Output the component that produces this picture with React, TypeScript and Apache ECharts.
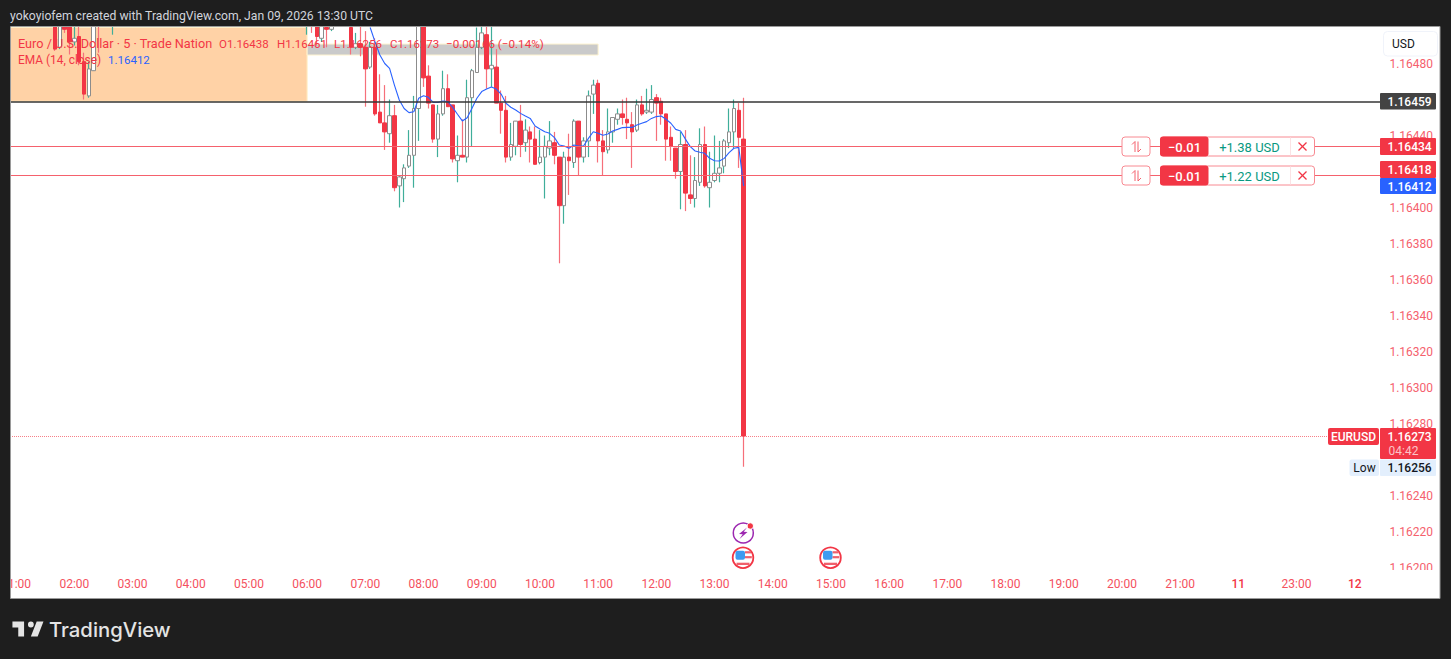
import React, { useEffect, useRef } from "react";
import * as echarts from "echarts";

const offscreen = (n: number) => Array(n).fill(null);

const hourLabels: Record<string, string> = { "22:00": "11", "00:00": "12" };
const categories: string[] = [];
for (let i = 0; i < 284; i++) {
  const m = (50 + i * 5) % 1440;
  const s = String(Math.floor(m / 60)).padStart(2, "0") + ":" + String(m % 60).padStart(2, "0");
  categories.push(hourLabels[s] ?? s);
}

const opens = [...offscreen(10),
  1.16501,1.16489,1.16505,1.16503,1.16492,1.16495,1.16481,1.16462,1.16476,1.16510,null,null,1.16505,...offscreen(39),
  1.16506,1.16510,1.16505,1.16494,1.16500,1.16499,null,null,null,
  1.16500,1.16489,1.16491,1.16489,1.16478,1.16489,1.16453,1.16447,1.16441,1.16451,1.16412,1.16416,1.16423,1.16429,1.16455,1.16501,1.16473,1.16457,1.16438,1.16452,1.16466,1.16457,1.16426,1.16429,1.16428,1.16461,1.16475,1.16489,1.16496,1.16477,1.16478,1.16458,1.16454,1.16428,1.16434,1.16448,1.16436,1.16442,1.16438,1.16425,1.16428,1.16433,1.16436,1.16428,1.16401,1.16428,1.16425,1.16448,1.16428,1.16437,1.16463,1.16469,1.16437,1.16432,1.16442,1.16449,1.16452,1.16449,1.16446,1.16443,1.16457,1.16453,1.16453,1.16461,1.16459,1.16452,1.16439,1.16433,1.16420,1.16435,1.16407,1.16405,1.16414,1.16435,1.16411,1.16415,1.16419,1.16423,1.16436,1.16442,1.16454,1.16438];
const closes = [...offscreen(10),
  1.16488,1.16503,1.16499,1.16492,1.16494,1.16481,1.16463,1.16477,1.16505,1.16506,null,null,1.16510,...offscreen(39),
  1.16510,1.16506,1.16495,1.16503,1.16499,1.16501,null,null,null,
  1.16489,1.16491,1.16489,1.16477,1.16489,1.16452,1.16447,1.16442,1.16451,1.16411,1.16417,1.16422,1.16429,1.16455,1.16503,1.16472,1.16458,1.16438,1.16452,1.16466,1.16456,1.16427,1.16429,1.16428,1.16461,1.16476,1.16489,1.16497,1.16477,1.16479,1.16458,1.16454,1.16428,1.16435,1.16448,1.16435,1.16443,1.16438,1.16424,1.16428,1.16434,1.16437,1.16429,1.16401,1.16428,1.16426,1.16448,1.16428,1.16437,1.16462,1.16468,1.16437,1.16431,1.16442,1.16450,1.16452,1.16450,1.16447,1.16442,1.16457,1.16452,1.16454,1.16460,1.16458,1.16452,1.16438,1.16434,1.16420,1.16435,1.16408,1.16405,1.16415,1.16435,1.16412,1.16414,1.16419,1.16422,1.16437,1.16442,1.16455,1.16439,1.16273];
const lows = [...offscreen(10),
  1.16487,1.16488,1.16497,1.16485,1.16490,1.16479,1.16460,1.16461,1.16476,1.16486,null,null,1.16496,...offscreen(39),
  1.16496,1.16497,1.16490,1.16492,1.16489,1.16498,null,null,null,
  1.16485,1.16488,1.16484,1.16456,1.16477,1.16451,1.16447,1.16432,1.16436,1.16409,1.16400,1.16403,1.16422,1.16411,1.16437,1.16467,1.16455,1.16436,1.16428,1.16451,1.16456,1.16425,1.16414,1.16428,1.16425,1.16434,1.16475,1.16488,1.16466,1.16467,1.16458,1.16441,1.16425,1.16426,1.16429,1.16428,1.16431,1.16425,1.16424,1.16424,1.16405,1.16429,1.16424,1.16369,1.16391,1.16407,1.16422,1.16418,1.16425,1.16428,1.16452,1.16425,1.16418,1.16430,1.16436,1.16446,1.16446,1.16438,1.16422,1.16442,1.16451,1.16452,1.16452,1.16437,1.16446,1.16426,1.16426,1.16416,1.16399,1.16398,1.16402,1.16400,1.16412,1.16411,1.16400,1.16414,1.16414,1.16419,1.16433,1.16433,1.16422,1.16256];
const highs = [...offscreen(10),
  1.16505,1.16505,1.16507,1.16506,1.16502,1.16503,1.16486,1.16481,1.16508,1.16512,null,null,1.16512,...offscreen(39),
  1.16512,1.16512,1.16507,1.16506,1.16506,1.16503,null,null,null,
  1.16503,1.16497,1.16501,1.16498,1.16492,1.16494,1.16474,1.16468,1.16460,1.16457,1.16418,1.16424,1.16443,1.16462,1.16507,1.16505,1.16479,1.16457,1.16457,1.16476,1.16474,1.16457,1.16440,1.16449,1.16471,1.16477,1.16500,1.16502,1.16503,1.16503,1.16488,1.16465,1.16462,1.16447,1.16448,1.16457,1.16449,1.16445,1.16445,1.16443,1.16440,1.16448,1.16442,1.16428,1.16431,1.16441,1.16449,1.16448,1.16439,1.16465,1.16471,1.16471,1.16443,1.16455,1.16450,1.16455,1.16460,1.16461,1.16453,1.16460,1.16462,1.16466,1.16468,1.16463,1.16461,1.16452,1.16445,1.16433,1.16442,1.16443,1.16429,1.16428,1.16444,1.16445,1.16431,1.16440,1.16437,1.16438,1.16455,1.16460,1.16458,1.16461];
const ema14 = [...offscreen(75),
  1.165000,1.164920,1.164847,1.164800,1.164773,1.164680,1.164597,1.164550,1.164527,1.164532,1.164607,1.164621,1.164612,1.164584,1.164584,1.164592,1.164588,1.164557,1.164518,1.164481,1.164499,1.164551,1.164607,1.164644,1.164658,1.164670,1.164658,1.164630,1.164579,1.164557,1.164542,1.164523,1.164508,1.164495,1.164453,1.164436,1.164421,1.164412,1.164388,1.164347,1.164342,1.164329,
  1.164347,1.164342,1.164342,1.164384,1.164421,1.164412,1.164401,1.164408,1.164425,1.164434,1.164444,1.164445,1.164445,1.164458,1.164468,1.164477,1.164495,1.164505,1.164508,1.164490,1.164468,1.164434,1.164425,1.164380,1.164338,1.164314,1.164307,1.164301,1.164273,1.164260,1.164258,1.164273,1.164305,1.164329,1.164334,1.16412];

const blackLevel = 1.16459;
const orderLevels = [1.16434, 1.16418];
const lastPrice = 1.16273;
const peachZone = { from: "00:50", to: "06:00", top: 1.165, bottom: 1.16459 };
const grayZone = { from: "06:00", to: "11:00", top: 1.164908, bottom: 1.164847 };
const coveredTicks = ["1.16460", "1.16420", "1.16260", "1.16500"];

const RED = "#f23645";
const TEAL = "#089981";
const FONT = "Roboto, sans-serif";

echarts.graphic.registerShape(
  "tvlogo",
  echarts.graphic.extendPath("M14 6H2v6h6v9h6V6Zm14 15h-7l6-15h7l-6 15Zm-7-9a3 3 0 1 0 0-6 3 3 0 0 0 0 6Z", {})
);

const Z = 100;
const rect = (x: number, y: number, w: number, h: number, fill: string, stroke?: string, r = 0, z = Z) => ({
  type: "rect", z, silent: true,
  shape: { x, y, width: w, height: h, r },
  style: { fill, stroke: stroke ?? null, lineWidth: stroke ? 1 : 0 },
});
const text = (s: string, x: number, y: number, fill: string, size = 12, align = "left", weight = "normal", z = Z + 2) => ({
  type: "text", z, silent: true, x, y,
  style: { text: s, fill, font: `${weight} ${size}px ${FONT}`, align, verticalAlign: "middle" },
});
const line = (pts: number[][], stroke: string, w = 1, z = Z + 2) => ({
  type: "polyline", z, silent: true,
  shape: { points: pts },
  style: { stroke, lineWidth: w, fill: null },
});

const orderWidget = (y: number, pnl: string) => [
  rect(1122, y - 9.5, 28, 19, "#ffffff", "#f88a92", 3),
  line([[1135, y + 5.5], [1135, y - 5], [1132, y - 2]], "#f4606c"),
  line([[1138, y - 5], [1138, y + 5.5], [1141, y + 2.5]], "#f4606c"),
  rect(1160.5, y - 9.5, 154, 19, "#ffffff", "#f88a92", 3),
  rect(1160, y - 10, 48.5, 20, RED, null as any, 3),
  { ...rect(1290, y - 9, 1, 18, "#fbe3e5"), z: Z + 1 },
  text("−0.01", 1184.5, y + 0.5, "#ffffff", 13, "center", "500"),
  text(pnl, 1249.5, y + 0.5, TEAL, 13, "center"),
  line([[1298.5, y - 4], [1306.5, y + 4]], RED, 1.2),
  line([[1306.5, y - 4], [1298.5, y + 4]], RED, 1.2),
];

const priceTag = (s: string, y0: number, y1: number, fill: string, color = "#ffffff") => [
  rect(1380, y0, 56, y1 - y0, fill, null as any, 1),
  text(s, 1409.5, (y0 + y1) / 2 + 0.5, color, 12, "center", "500"),
];

const usFlag = (cx: number, cy: number) => [
  { type: "circle", z: Z, silent: true, shape: { cx, cy, r: 10.3 }, style: { fill: "#ffffff", stroke: RED, lineWidth: 1.8 } },
  rect(cx + 2, cy - 6.5, 6, 2.2, "#f0606c"),
  rect(cx + 2, cy - 1.6, 6.8, 2.2, "#f0606c"),
  rect(cx - 6.5, cy + 5, 13, 2.3, "#f0606c"),
  rect(cx - 7.5, cy - 7, 9.5, 9, "#3d9bf0", null as any, 2),
];

const graphics: any[] = [
  // frame
  rect(0, 0, 1451, 27, "#1e1e1e"),
  rect(0, 0, 10.5, 659, "#1e1e1e"),
  rect(1440, 0, 11, 659, "#1e1e1e"),
  rect(0, 598.5, 1451, 61, "#1e1e1e"),
  { ...rect(10.5, 26.5, 1429.5, 572, "transparent", "#9a9a9a"), z: Z + 1 },
  rect(1381, 570, 58, 28, "#ffffff"),
  text("yokoyiofem created with TradingView.com, Jan 09, 2026 13:30 UTC", 10, 16, "#d1d4dc", 12.2),
  { type: "tvlogo", z: Z + 2, silent: true, x: 10.5, y: 615.5, scaleX: 0.97, scaleY: 1, style: { fill: "#e4e4e4" } },
  { type: "text", z: Z + 2, silent: true, x: 49, y: 629, style: { text: "TradingView", fill: "#e4e4e4", font: `500 20.3px Inter, ${FONT}`, align: "left", verticalAlign: "middle" } },
  // legend
  text("Euro / U.S. Dollar · 5 · Trade Nation", 18, 43.5, RED, 12.7),
  text("O1.16438", 219, 43.5, RED, 11.5),
  text("H1.16461", 277, 43.5, RED, 11.5),
  text("L1.16256", 334, 43.5, RED, 11.5),
  text("C1.16273", 390, 43.5, RED, 11.5),
  text("−0.00166 (−0.14%)", 446, 43.5, RED, 11.65),
  text("EMA (14, close)", 18, 60, RED, 11.9),
  text("1.16412", 108, 60, "#2962ff", 11.5),
  // price scale controls
  rect(1383.5, 31.5, 54, 24.5, "#ffffff", "#f0f3fa", 4),
  text("USD", 1392, 44, "#131722", 12),
  ...orderWidget(146.5, "+1.38 USD"),
  ...orderWidget(175.5, "+1.22 USD"),
  ...priceTag("1.16459", 93, 109.5, "#434343"),
  ...priceTag("1.16434", 138, 155, RED),
  ...priceTag("1.16418", 161, 178, RED),
  ...priceTag("1.16412", 178, 194, "#2962ff"),
  rect(1328, 428, 51, 17, RED, null as any, 2),
  text("EURUSD", 1353.5, 437, "#ffffff", 12, "center", "500"),
  rect(1380, 428, 56, 31, RED, null as any, 1),
  text("1.16273", 1409.5, 437, "#ffffff", 12, "center", "500"),
  text("04:42", 1403.5, 451, "#fbc4c8", 12, "center"),
  rect(1349.5, 459.5, 29.5, 16.5, "#e3effd", null as any, 2),
  text("Low", 1364.5, 468, "#131722", 12, "center"),
  rect(1380, 459.5, 56, 16.5, "#e3effd", null as any, 1),
  text("1.16256", 1409.5, 468, "#131722", 12, "center", "500"),
  // events
  { type: "circle", z: Z, silent: true, shape: { cx: 743.3, cy: 533, r: 10 }, style: { fill: "#ffffff", stroke: "#9c27b0", lineWidth: 1.5 } },
  { type: "polygon", z: Z + 1, silent: true, shape: { points: [[747, 527.5], [739, 534], [742.7, 534.2], [739.5, 539], [747.5, 532], [743.7, 531.8]] }, style: { fill: "#9c27b0" } },
  { type: "circle", z: Z + 1, silent: true, shape: { cx: 750.3, cy: 526, r: 3.2 }, style: { fill: RED, stroke: "#ffffff", lineWidth: 1 } },
  ...usFlag(743, 557.7),
  ...usFlag(830.5, 557.7),
];

const wickData = opens.map((o, i) =>
  o == null ? ["-", "-", "-", "-"] : [o, closes[i], lows[i], highs[i]]
);
const bodyData = opens.map((o, i) => {
  if (o == null) return ["-", "-", "-", "-"];
  const c = closes[i] as number;
  return [o, c, Math.min(o, c), Math.max(o, c)];
});

export default function App() {
  const ref = useRef<HTMLDivElement>(null);
  useEffect(() => {
    document.body.style.margin = "0";
    const chart = echarts.init(ref.current!, null, { renderer: "svg" });
    chart.setOption({
      animation: false,
      backgroundColor: "#ffffff",
      grid: { left: 4, right: 69.6, top: 27.5, bottom: 91.5, outerBoundsMode: "none" },
      xAxis: {
        type: "category",
        data: categories,
        boundaryGap: true,
        axisLine: { show: false },
        axisTick: { show: false },
        splitLine: { show: false },
        axisLabel: {
          interval: (i: number) => i % 12 === 2,
          margin: 10.5,
          color: "#f4515e",
          fontFamily: FONT,
          fontSize: 12,
          hideOverlap: false,
          formatter: (v: string) => (v === "11" || v === "12" ? `{d|${v}}` : v),
          rich: { d: { fontWeight: 500, color: RED, fontSize: 12, fontFamily: FONT } },
        },
      },
      yAxis: {
        type: "value",
        position: "right",
        min: 1.162,
        max: 1.165,
        interval: 0.0002,
        scale: true,
        axisLine: { show: false },
        axisTick: { show: false },
        splitLine: { show: false },
        axisLabel: {
          margin: 8,
          color: "#f5616d",
          fontFamily: FONT,
          fontSize: 12,
          formatter: (v: number) => (coveredTicks.includes(v.toFixed(5)) ? "" : v.toFixed(5)),
        },
      },
      graphic: { elements: graphics },
      series: [
        {
          name: "EUR/USD wicks",
          type: "candlestick",
          data: wickData,
          barWidth: 1,
          itemStyle: { color: "#3fae9a", color0: "#f66f7a", borderColor: "#3fae9a", borderColor0: "#f66f7a", borderWidth: 1.2 },
          markArea: {
            silent: true,
            data: [
              [
                { xAxis: peachZone.from, yAxis: peachZone.top, itemStyle: { color: "#ffd2a6", borderColor: "#fff0c8", borderWidth: 1 } },
                { xAxis: peachZone.to, yAxis: peachZone.bottom },
              ],
              [
                { xAxis: grayZone.from, yAxis: grayZone.top, itemStyle: { color: "#cacaca", borderColor: "#fff4d0", borderWidth: 1 } },
                { xAxis: grayZone.to, yAxis: grayZone.bottom },
              ],
            ],
          },
        },
        {
          name: "EUR/USD bodies",
          type: "candlestick",
          data: bodyData,
          barWidth: 4,
          itemStyle: { color: "#ffffff", color0: RED, borderColor: "#8c8c8c", borderColor0: RED, borderWidth: 1 },
        },
        {
          name: "EMA (14, close)",
          type: "line",
          data: ema14,
          showSymbol: false,
          connectNulls: false,
          z: 4,
          lineStyle: { color: "#2962ff", width: 1.1 },
          itemStyle: { color: "#2962ff" },
          markLine: {
            silent: true,
            symbol: "none",
            precision: 5,
            label: { show: false },
            data: [
              { yAxis: blackLevel, lineStyle: { color: "#363636", width: 1.5, type: "solid" } },
              ...orderLevels.map((v) => ({ yAxis: v, lineStyle: { color: "#f5616d", width: 1, type: "solid" } })),
              { yAxis: lastPrice, lineStyle: { color: "#f77f88", width: 1, type: "dotted" } },
            ],
          },
        },
      ],
    });
    return () => chart.dispose();
  }, []);
  return <div ref={ref} style={{ position: "absolute", left: 0, top: 0, width: 1451, height: 659 }} />;
}
